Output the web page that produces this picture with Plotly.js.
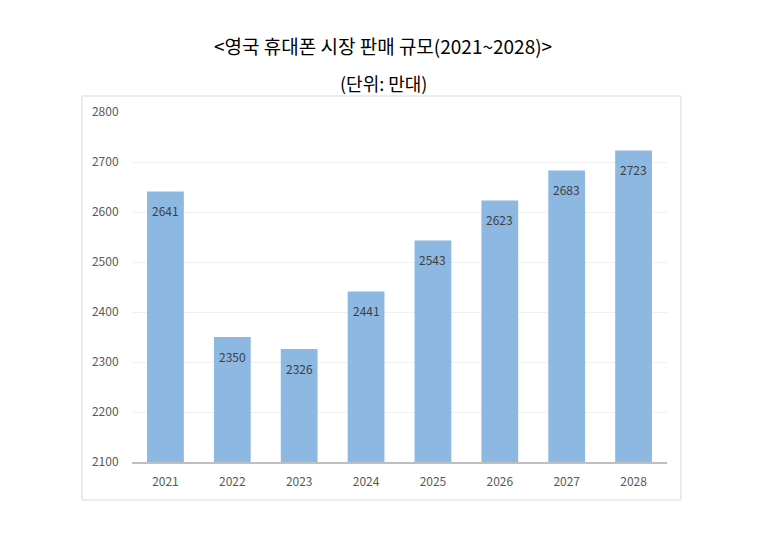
<!DOCTYPE html>
<html>
<head>
<meta charset="utf-8">
<script src="https://cdn.plot.ly/plotly-3.0.1.min.js"></script>
<style>html,body{margin:0;padding:0;background:#fff;}#chart{width:765px;height:546px;}</style>
</head>
<body>
<div id="chart"></div>
<script>
const years = ['2021','2022','2023','2024','2025','2026','2027','2028'];
const sales = [2641, 2350, 2326, 2441, 2543, 2623, 2683, 2723];
const yTicks = [2100, 2200, 2300, 2400, 2500, 2600, 2700, 2800];
const titleText = '&lt;영국 휴대폰 시장 판매 규모(2021~2028)&gt;';
const subtitleText = '(단위: 만대)';

const font = '"Noto Sans CJK KR", "Noto Sans", sans-serif';

const trace = {
  type: 'bar',
  x: years,
  y: sales,
  marker: {color: '#8db8e2', line: {width: 0}},
  hoverinfo: 'none'
};

const labelAnns = years.map((yr, i) => ({
  x: i, y: sales[i], xref: 'x', yref: 'y',
  text: String(sales[i]), showarrow: false,
  yanchor: 'middle', xanchor: 'center', yshift: -19,
  font: {family: font, size: 12, color: '#404040'}
}));

const layout = {
  width: 765, height: 546,
  margin: {l: 132, r: 98, t: 112, b: 84},
  paper_bgcolor: '#ffffff',
  plot_bgcolor: '#ffffff',
  showlegend: false,
  bargap: 0.45,
  font: {family: font, color: '#595959'},
  xaxis: {
    type: 'category',
    range: [-0.5, years.length - 0.5],
    tickfont: {family: font, size: 12, color: '#595959'},
    showgrid: false,
    showline: true, linecolor: '#bfbfbf', linewidth: 1.5,
    ticks: 'outside', ticklen: 8, tickcolor: 'rgba(0,0,0,0)',
    fixedrange: true
  },
  yaxis: {
    range: [2100, 2800],
    tickvals: yTicks,
    tickfont: {family: font, size: 12, color: '#595959'},
    showgrid: true, gridcolor: '#f0f0f0', gridwidth: 1,
    zeroline: false,
    showline: false,
    ticks: 'outside', ticklen: 10, tickcolor: 'rgba(0,0,0,0)',
    fixedrange: true
  },
  shapes: [{
    type: 'rect', xref: 'paper', yref: 'paper',
    x0: -0.0935, x1: 1.026, y0: -0.1086, y1: 1.0457,
    line: {color: '#d9d9d9', width: 1}, fillcolor: 'rgba(0,0,0,0)', layer: 'below'
  }],
  annotations: [
    {text: titleText, xref: 'paper', yref: 'paper', x: 0.47, y: (462-46)/350,
     xanchor: 'center', yanchor: 'middle', showarrow: false,
     font: {family: font, size: 19, color: '#000000'}},
    {text: subtitleText, xref: 'paper', yref: 'paper', x: 0.47, y: (462-83)/350,
     xanchor: 'center', yanchor: 'middle', showarrow: false,
     font: {family: font, size: 18, color: '#000000'}}
  ].concat(labelAnns)
};

Plotly.newPlot('chart', [trace], layout, {displayModeBar: false, staticPlot: true});
</script>
</body>
</html>
